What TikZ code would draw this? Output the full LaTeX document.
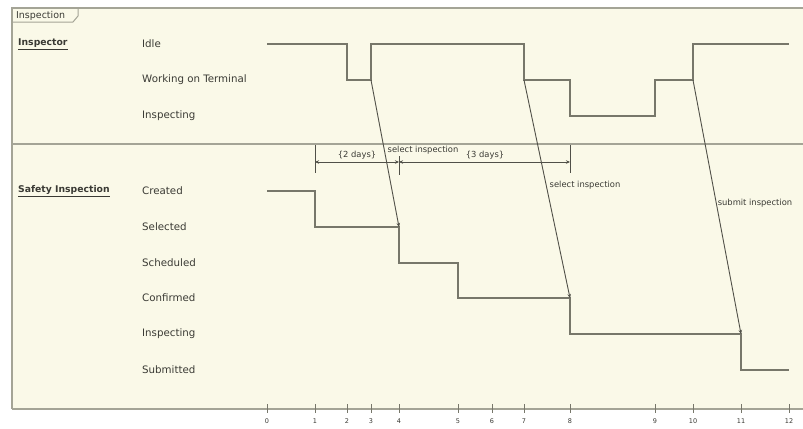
\documentclass[tikz,border=0pt]{standalone}
\usepackage{fontspec}
\setmainfont{DejaVu Sans}
\usetikzlibrary{arrows.meta}
\definecolor{cream}{HTML}{FAF9E8}
\definecolor{frameg}{HTML}{A4A496}
\definecolor{sig}{HTML}{77776A}
\definecolor{msgc}{HTML}{505048}
\definecolor{txt}{HTML}{3A3A34}
\begin{document}
\begin{tikzpicture}[x=1bp,y=-1bp,
  state/.style={anchor=west,inner sep=0pt,text=txt,font=\fontsize{10.3}{12}\selectfont},
  life/.style={anchor=west,inner sep=0pt,text=txt,font=\bfseries\fontsize{9.3}{11}\selectfont},
  msglabel/.style={inner sep=0pt,text=txt,font=\fontsize{8.4}{10}\selectfont},
  ticklabel/.style={inner sep=0pt,text=txt,font=\fontsize{6.5}{8}\selectfont},
  signal/.style={draw=sig,line width=1.2bp},
  message/.style={draw=msgc,line width=0.9bp,-{Stealth[length=4bp,width=3.5bp]}},
  border/.style={draw=frameg,line width=1.2bp},
  durline/.style={draw=msgc,line width=0.7bp}
]
\useasboundingbox (0,0) rectangle (803,428);
\fill[white] (0,0) rectangle (803,428);
\fill[cream] (12,8) rectangle (803,409);
% frame
\draw[border] (803,8) -- (12,8) -- (12,409);
\draw[border] (12,144) -- (803,144);
\draw[border] (12,409) -- (803,409);
% title tab
\draw[border,line width=1bp] (12,22) -- (73,22) -- (78,16) -- (78,8);
\node[inner sep=0pt,text=txt,font=\fontsize{9.5}{10}\selectfont,anchor=west] (title) at (16,15.5) {Inspection};

% lifeline names
\node[life] (inspector) at (18,44) {\underline{Inspector}};
\node[life] (safety) at (18,191) {\underline{Safety Inspection}};

% state labels
\node[state] (sIdle) at (142,44) {Idle};
\node[state] (sWork) at (142,80) {Working on Terminal};
\node[state] (sInsp) at (142,116) {Inspecting};
\node[state] (sCreated) at (142,191) {Created};
\node[state] (sSelected) at (142,227) {Selected};
\node[state] (sScheduled) at (142,263) {Scheduled};
\node[state] (sConfirmed) at (142,298) {Confirmed};
\node[state] (sInspecting) at (142,334) {Inspecting};
\node[state] (sSubmitted) at (142,370) {Submitted};

% time axis ticks
\foreach \t/\x in {0/267,1/315,2/347,3/371,4/399,5/458,6/492,7/524,8/570,9/655,10/693,11/741,12/789}{
  \draw[draw=sig,line width=1bp] (\x,404) -- (\x,413);
  \node[ticklabel] (tick\t) at (\x,421) {\t};
}

% Inspector timeline
\draw[signal] (267,44) -- (347,44) -- (347,80) -- (371,80) -- (371,44) -- (524,44)
  -- (524,80) -- (570,80) -- (570,116) -- (655,116) -- (655,80) -- (693,80)
  -- (693,44) -- (789,44);

% Safety Inspection timeline
\draw[signal] (267,191) -- (315,191) -- (315,227) -- (399,227) -- (399,263)
  -- (458,263) -- (458,298) -- (570,298) -- (570,334) -- (741,334)
  -- (741,370) -- (789,370);

% message end points
\coordinate (m1s) at (371,80);
\coordinate (m1e) at (399,227);
\coordinate (m2s) at (524,80);
\coordinate (m2e) at (570,298);
\coordinate (m3s) at (693,80);
\coordinate (m3e) at (741,334);
\draw[message] (m1s) -- (m1e);
\draw[message] (m2s) -- (m2e);
\draw[message] (m3s) -- (m3e);
\node[msglabel] (l1) at (423,150) {select inspection};
\node[msglabel] (l2) at (585,185) {select inspection};
\node[msglabel] (l3) at (755,203) {submit inspection};

% duration constraints
\coordinate (d1) at (315,162);
\coordinate (d2) at (399,162);
\coordinate (d3) at (570,162);
\draw[durline] (315,145) -- (315,173);
\draw[durline] (399,156) -- (399,175);
\draw[durline] (570,145) -- (570,173);
\draw[durline,{Stealth[length=4bp,width=3.5bp]}-{Stealth[length=4bp,width=3.5bp]}] (d1) -- (d2);
\draw[durline,{Stealth[length=4bp,width=3.5bp]}-{Stealth[length=4bp,width=3.5bp]}] (d2) -- (d3);
\node[msglabel] (dur1) at (357,155) {\{2 days\}};
\node[msglabel] (dur2) at (485,155) {\{3 days\}};
\end{tikzpicture}
\end{document}
